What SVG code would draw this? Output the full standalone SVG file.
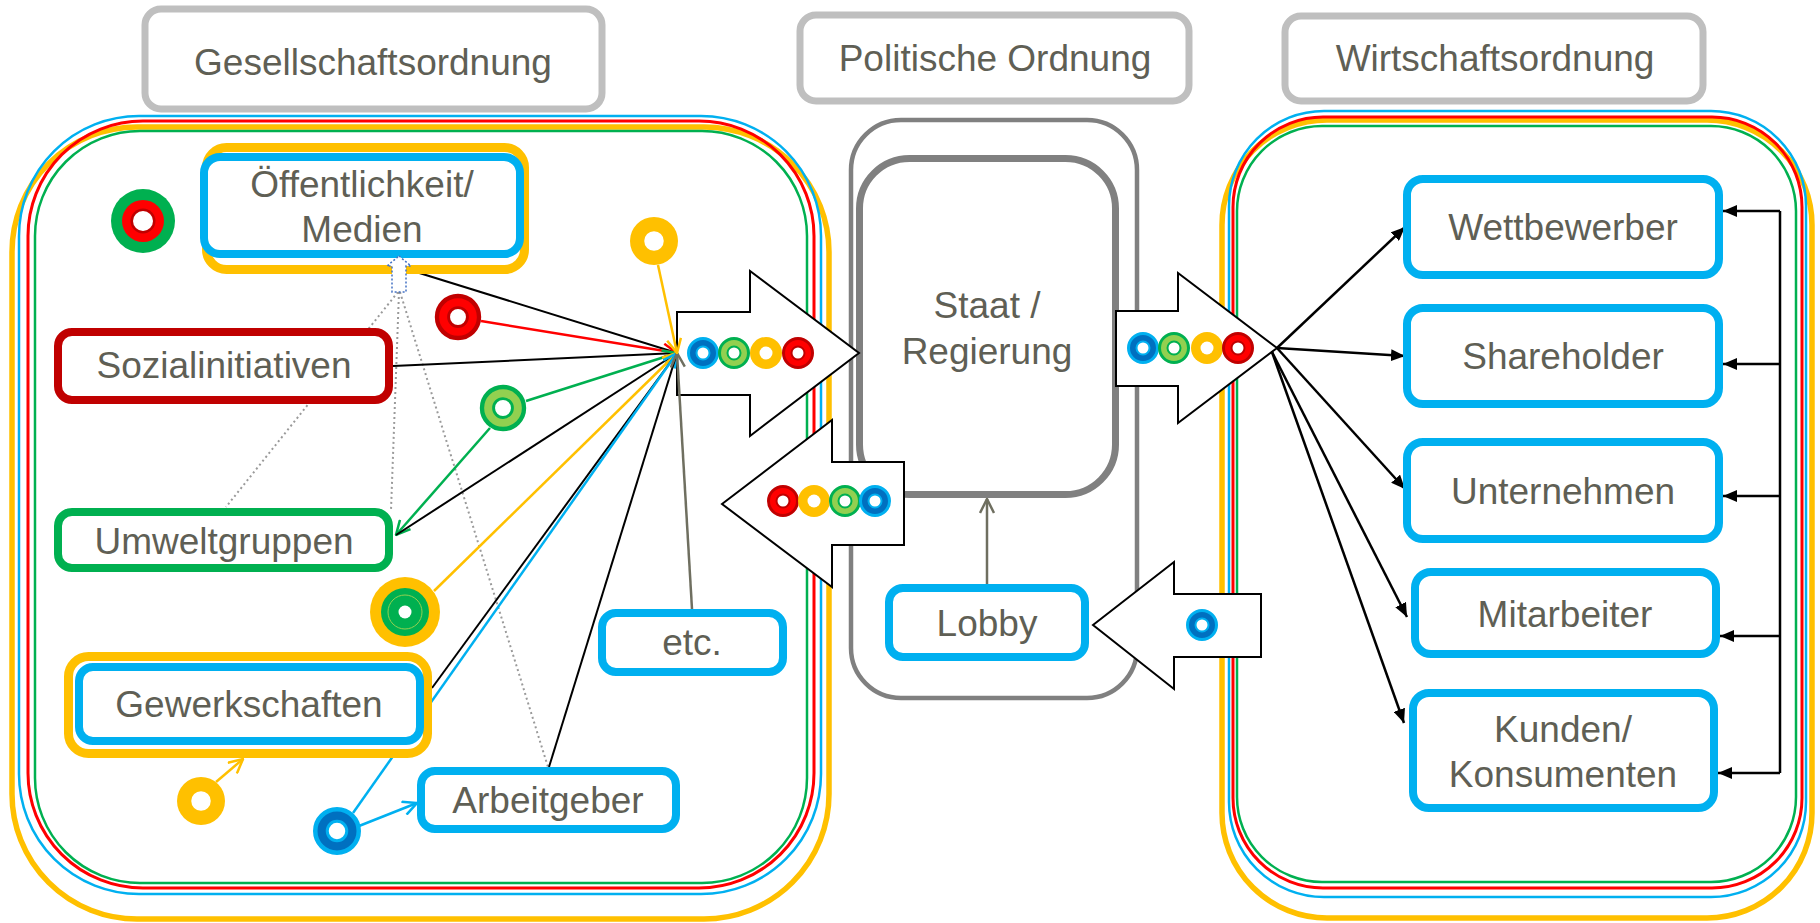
<svg xmlns="http://www.w3.org/2000/svg" width="1820" height="923" viewBox="0 0 1820 923">
<style>
.lbl{font-family:"Liberation Sans",Arial,sans-serif;font-size:37px;fill:#5F5F55;text-anchor:middle}
.title{fill:#fff;stroke:#BFBFBF;stroke-width:7}
.bbox{fill:#fff;stroke:#00B0F0;stroke-width:8}
.ybox{fill:#fff;stroke:#FFC000;stroke-width:9}
.bigarrow{fill:#fff;stroke:#000;stroke-width:2;stroke-linejoin:miter}
.cl{fill:none}
.k{stroke:#000;stroke-width:2;fill:none}
.kr{stroke:#000;stroke-width:2.5;fill:none}
.dot{stroke:#9A9A9A;stroke-width:2;stroke-dasharray:2 3;fill:none}
</style>
<defs>
<marker id="mY" viewBox="0 0 16 16" refX="15" refY="8" markerWidth="16" markerHeight="16" markerUnits="userSpaceOnUse" orient="auto"><path d="M1,1 L15,8 L1,15" fill="none" stroke="#FFC000" stroke-width="2.5"/></marker>
<marker id="mR" viewBox="0 0 16 16" refX="15" refY="8" markerWidth="16" markerHeight="16" markerUnits="userSpaceOnUse" orient="auto"><path d="M1,1 L15,8 L1,15" fill="none" stroke="#FF0000" stroke-width="2.5"/></marker>
<marker id="mG" viewBox="0 0 16 16" refX="15" refY="8" markerWidth="16" markerHeight="16" markerUnits="userSpaceOnUse" orient="auto"><path d="M1,1 L15,8 L1,15" fill="none" stroke="#00B050" stroke-width="2.5"/></marker>
<marker id="mB" viewBox="0 0 16 16" refX="15" refY="8" markerWidth="16" markerHeight="16" markerUnits="userSpaceOnUse" orient="auto"><path d="M1,1 L15,8 L1,15" fill="none" stroke="#00B0F0" stroke-width="2.5"/></marker>
<marker id="mGr" viewBox="0 0 16 16" refX="15" refY="8" markerWidth="16" markerHeight="16" markerUnits="userSpaceOnUse" orient="auto"><path d="M1,1 L15,8 L1,15" fill="none" stroke="#6F6F60" stroke-width="2.5"/></marker>
<marker id="mK" viewBox="0 0 14 12" refX="14" refY="6" markerWidth="14" markerHeight="12" markerUnits="userSpaceOnUse" orient="auto"><path d="M0,0 L14,6 L0,12 z" fill="#000"/></marker>
<g id="tokB"><circle r="14.5" fill="#0070C0" stroke="#00B0F0" stroke-width="3"/><circle r="6.5" fill="#fff" stroke="#00B0F0" stroke-width="2"/></g>
<g id="tokG"><circle r="14.5" fill="#92D050" stroke="#00B050" stroke-width="3"/><circle r="6.5" fill="#fff" stroke="#00B050" stroke-width="2"/></g>
<g id="tokY"><circle r="16" fill="#FFC000"/><circle r="6.5" fill="#fff"/></g>
<g id="tokR"><circle r="14.5" fill="#FF0000" stroke="#C00000" stroke-width="3"/><circle r="6.5" fill="#fff" stroke="#C00000" stroke-width="2"/></g>
</defs>
<rect width="1820" height="923" fill="#fff"/>

<g id="containers">
  <rect class="cl" x="12" y="127" width="817" height="792" rx="125" stroke="#FFC000" stroke-width="5.5"/>
  <rect class="cl" x="19" y="116" width="802" height="778" rx="120" stroke="#00B0F0" stroke-width="2.5"/>
  <rect class="cl" x="28" y="121" width="786" height="767" rx="115" stroke="#FF0000" stroke-width="3"/>
  <rect class="cl" x="35" y="131" width="772" height="752" rx="105" stroke="#00B050" stroke-width="2.5"/>
  <rect class="cl" x="1222" y="120" width="590" height="798" rx="105" stroke="#FFC000" stroke-width="5.5"/>
  <rect class="cl" x="1229" y="111" width="577" height="786" rx="95" stroke="#00B0F0" stroke-width="2.5"/>
  <rect class="cl" x="1233" y="117" width="569" height="771" rx="90" stroke="#FF0000" stroke-width="3"/>
  <rect class="cl" x="1237" y="126" width="559" height="756" rx="85" stroke="#00B050" stroke-width="2.5"/>
  <rect class="cl" x="851" y="120" width="286" height="578" rx="50" stroke="#808080" stroke-width="4.5"/>
</g>

<g id="title-gesellschaft"><rect class="title" x="145" y="9" width="457" height="100" rx="16"/><text class="lbl" x="373" y="75">Gesellschaftsordnung</text></g>
<g id="title-politik"><rect class="title" x="800" y="15" width="389" height="86" rx="16"/><text class="lbl" x="995" y="71">Politische Ordnung</text></g>
<g id="title-wirtschaft"><rect class="title" x="1285" y="16" width="418" height="85" rx="16"/><text class="lbl" x="1495" y="71">Wirtschaftsordnung</text></g>

<g id="staat"><rect x="859.5" y="158.5" width="256" height="336" rx="50" fill="#fff" stroke="#808080" stroke-width="7"/><text class="lbl" x="987" y="318">Staat /</text><text class="lbl" x="987" y="364">Regierung</text></g>

<g id="arrow-to-staat">
  <polygon class="bigarrow" points="677,312 750,312 750,271 859,353 750,436 750,395 677,395"/>
  <use href="#tokB" x="703" y="353"/><use href="#tokG" x="734" y="353"/><use href="#tokY" x="766" y="353"/><use href="#tokR" x="798" y="353"/>
</g>
<g id="arrow-from-staat">
  <polygon class="bigarrow" points="722,504 832,420 832,462 904,462 904,545 832,545 832,587"/>
  <use href="#tokR" x="783" y="501"/><use href="#tokY" x="814" y="501"/><use href="#tokG" x="845" y="501"/><use href="#tokB" x="875" y="501"/>
</g>
<g id="arrow-to-wirtschaft">
  <polygon class="bigarrow" points="1116,311 1178,311 1178,273 1277,348 1178,423 1178,386 1116,386"/>
  <use href="#tokB" x="1143" y="348"/><use href="#tokG" x="1174" y="348"/><use href="#tokY" x="1207" y="348"/><use href="#tokR" x="1238" y="348"/>
</g>
<g id="arrow-to-lobby">
  <polygon class="bigarrow" points="1093,625 1174,562 1174,594 1261,594 1261,657 1174,657 1174,689"/>
  <use href="#tokB" x="1202" y="625"/>
</g>

<g id="connectors">
  <line class="dot" x1="398" y1="292" x2="226" y2="507"/>
  <line class="dot" x1="399" y1="292" x2="391" y2="510"/>
  <line class="dot" x1="400" y1="292" x2="548" y2="767"/>
  <line class="k" x1="371" y1="258" x2="677" y2="353"/>
  <line x1="481" y1="321" x2="677" y2="353" stroke="#FF0000" stroke-width="2.5" marker-end="url(#mR)"/>
  <line class="k" x1="393" y1="366" x2="677" y2="353"/>
  <line x1="526" y1="401" x2="677" y2="353" stroke="#00B050" stroke-width="2.5" marker-end="url(#mG)"/>
  <line x1="490" y1="428" x2="396" y2="535" stroke="#00B050" stroke-width="2.5" marker-end="url(#mG)"/>
  <line class="k" x1="396" y1="535" x2="677" y2="353"/>
  <line x1="434" y1="591" x2="677" y2="353" stroke="#FFC000" stroke-width="2.5" marker-end="url(#mY)"/>
  <line class="k" x1="432" y1="688" x2="677" y2="353"/>
  <line x1="353" y1="813" x2="677" y2="353" stroke="#00B0F0" stroke-width="2.5" marker-end="url(#mB)"/>
  <line x1="359" y1="826" x2="417" y2="803" stroke="#00B0F0" stroke-width="2.5" marker-end="url(#mB)"/>
  <line x1="216" y1="782" x2="243" y2="759" stroke="#FFC000" stroke-width="2.5" marker-end="url(#mY)"/>
  <line class="k" x1="549" y1="767" x2="677" y2="353"/>
  <line x1="692" y1="609" x2="677" y2="353" stroke="#6F6F60" stroke-width="2.5" marker-end="url(#mGr)"/>
  <line x1="658" y1="265" x2="677" y2="353" stroke="#FFC000" stroke-width="2.5" marker-end="url(#mY)"/>
  <line x1="987" y1="584" x2="987" y2="499" stroke="#6F6F60" stroke-width="2.5" marker-end="url(#mGr)"/>
  <line class="kr" x1="1277" y1="348" x2="1405" y2="227" marker-end="url(#mK)"/>
  <line class="kr" x1="1277" y1="348" x2="1405" y2="356" marker-end="url(#mK)"/>
  <line class="kr" x1="1277" y1="348" x2="1405" y2="489" marker-end="url(#mK)"/>
  <line class="kr" x1="1272" y1="352" x2="1407" y2="617" marker-end="url(#mK)"/>
  <line class="kr" x1="1272" y1="352" x2="1404" y2="723" marker-end="url(#mK)"/>
  <polyline class="kr" points="1780,211 1780,773"/>
  <line class="kr" x1="1780" y1="211" x2="1723" y2="211" marker-end="url(#mK)"/>
  <line class="kr" x1="1780" y1="364" x2="1723" y2="364" marker-end="url(#mK)"/>
  <line class="kr" x1="1780" y1="496" x2="1723" y2="496" marker-end="url(#mK)"/>
  <line class="kr" x1="1780" y1="636" x2="1720" y2="636" marker-end="url(#mK)"/>
  <line class="kr" x1="1780" y1="773" x2="1718" y2="773" marker-end="url(#mK)"/>
</g>

<g id="oeffentlichkeit"><rect class="ybox" x="206.5" y="147.5" width="318" height="122" rx="20"/><rect class="bbox" x="204" y="157" width="316" height="97" rx="16"/><text class="lbl" x="362" y="197">Öffentlichkeit/</text><text class="lbl" x="362" y="242">Medien</text></g>
<g id="medien-pfeil"><polygon points="399,256 411,266 406,266 406,292 392,292 392,266 387,266" fill="#fff" stroke="#4472C4" stroke-width="1.5" stroke-dasharray="2 2"/></g>
<g id="sozialinitiativen"><rect x="58" y="332" width="331" height="68" rx="14" fill="#fff" stroke="#C00000" stroke-width="8"/><text class="lbl" x="224" y="378">Sozialinitiativen</text></g>
<g id="umweltgruppen"><rect x="58" y="512" width="331" height="56" rx="14" fill="#fff" stroke="#00B050" stroke-width="8"/><text class="lbl" x="224" y="554">Umweltgruppen</text></g>
<g id="gewerkschaften"><rect class="ybox" x="68.5" y="656.5" width="359" height="97" rx="20"/><rect class="bbox" x="79" y="667" width="341" height="74" rx="14"/><text class="lbl" x="249" y="717">Gewerkschaften</text></g>
<g id="arbeitgeber"><rect class="bbox" x="421" y="771" width="255" height="58" rx="14"/><text class="lbl" x="548" y="813">Arbeitgeber</text></g>
<g id="etc"><rect class="bbox" x="602" y="613" width="181" height="59" rx="14"/><text class="lbl" x="692" y="655">etc.</text></g>
<g id="lobby"><rect class="bbox" x="889" y="588" width="196" height="69" rx="14"/><text class="lbl" x="987" y="636">Lobby</text></g>

<g id="token-gruen-rot"><circle cx="143" cy="221" r="32" fill="#00B050"/><circle cx="143" cy="221" r="21" fill="#FF0000"/><circle cx="143" cy="221" r="12.5" fill="#C00000"/><circle cx="143" cy="221" r="10" fill="#fff"/></g>
<g id="token-rot"><use href="#tokR" transform="translate(458 317) scale(1.45)"/></g>
<g id="token-hellgruen"><use href="#tokG" transform="translate(503 408) scale(1.45)"/></g>
<g id="token-gelb-oben"><use href="#tokY" transform="translate(654 241) scale(1.5)"/></g>
<g id="token-gelb-gruen"><circle cx="405" cy="612" r="35" fill="#FFC000"/><circle cx="405" cy="612" r="24" fill="#00B050"/><circle cx="405" cy="612" r="17" fill="none" stroke="#92D050" stroke-width="1"/><circle cx="405" cy="612" r="6.5" fill="#fff"/></g>
<g id="token-gelb-unten"><use href="#tokY" transform="translate(201 801) scale(1.5)"/></g>
<g id="token-blau-unten"><use href="#tokB" transform="translate(337 831) scale(1.5)"/></g>

<g id="wettbewerber"><rect class="bbox" x="1407" y="179" width="312" height="96" rx="16"/><text class="lbl" x="1563" y="240">Wettbewerber</text></g>
<g id="shareholder"><rect class="bbox" x="1407" y="308" width="312" height="96" rx="16"/><text class="lbl" x="1563" y="369">Shareholder</text></g>
<g id="unternehmen"><rect class="bbox" x="1407" y="442" width="312" height="97" rx="16"/><text class="lbl" x="1563" y="504">Unternehmen</text></g>
<g id="mitarbeiter"><rect class="bbox" x="1415" y="572" width="301" height="82" rx="16"/><text class="lbl" x="1565" y="627">Mitarbeiter</text></g>
<g id="kunden"><rect class="bbox" x="1413" y="693" width="301" height="115" rx="16"/><text class="lbl" x="1563" y="742">Kunden/</text><text class="lbl" x="1563" y="787">Konsumenten</text></g>
</svg>
